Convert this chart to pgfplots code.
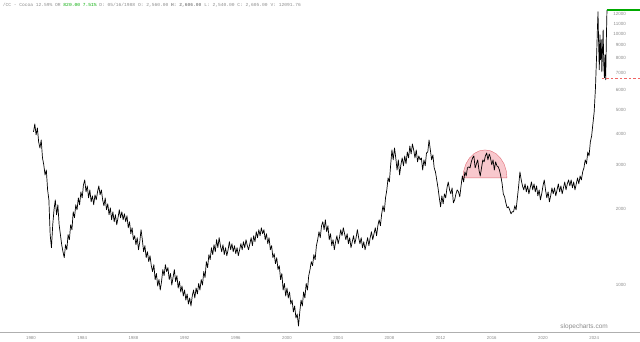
\documentclass[border=0pt]{standalone}
\usepackage{pgfplots}
\usepackage{pgfplotstable}
\pgfplotsset{compat=1.18}
\usepackage{fontspec}
\setmainfont{Liberation Sans}
\setmonofont{Liberation Mono}
\definecolor{tickgray}{RGB}{140,140,140}
\definecolor{axgray}{RGB}{175,175,175}
\definecolor{lastgreen}{RGB}{0,170,0}
\definecolor{domefill}{RGB}{248,200,205}
\definecolor{domeline}{RGB}{225,110,120}
\definecolor{dashred}{RGB}{240,100,100}

\pgfplotstableread{
t p
1980.2 4070
1980.3 4380
1980.4 3960
1980.5 4220
1980.6 3711
1980.7 3513
1980.8 3780
1980.9 3207
1981.0 3010
1981.1 2743
1981.2 2870
1981.3 2392
1981.4 2183
1981.5 1586
1981.6 1408
1981.7 1737
1981.8 1993
1981.9 2183
1982.0 1904
1982.1 2086
1982.2 1737
1982.3 1586
1982.4 1447
1982.5 1357
1982.6 1285
1982.7 1447
1982.8 1382
1982.9 1586
1983.0 1515
1983.1 1737
1983.2 1660
1983.3 1956
1983.4 1852
1983.5 2086
1983.6 1993
1983.7 2223
1983.8 2086
1983.9 2349
1984.0 2223
1984.1 2504
1984.2 2621
1984.3 2349
1984.4 2481
1984.5 2223
1984.6 2392
1984.7 2144
1984.8 2264
1984.9 2086
1985.0 2285
1985.1 2183
1985.2 2349
1985.3 2481
1985.4 2285
1985.5 2392
1985.6 2183
1985.7 2067
1985.8 2223
1985.9 1993
1986.0 2105
1986.1 1904
1986.2 2029
1986.3 1819
1986.4 1956
1986.5 1786
1986.6 1904
1986.7 1737
1986.8 1852
1986.9 1993
1987.0 1852
1987.1 1956
1987.2 1819
1987.3 1921
1987.4 1786
1987.5 1886
1987.6 1690
1987.7 1786
1987.8 1600
1987.9 1690
1988.0 1515
1988.1 1571
1988.2 1447
1988.3 1543
1988.4 1382
1988.5 1487
1988.6 1660
1988.7 1515
1988.8 1357
1988.9 1434
1989.0 1285
1989.1 1357
1989.2 1239
1989.3 1308
1989.4 1194
1989.5 1131
1989.6 1205
1989.7 1051
1989.8 1111
1989.9 991
1990.0 1051
1990.1 955
1990.2 1032
1990.3 1152
1990.4 1090
1990.5 1205
1990.6 1131
1990.7 1173
1990.8 1051
1990.9 1111
1991.0 1000
1991.1 1071
1991.2 1152
1991.3 1032
1991.4 1090
1991.5 973
1991.6 1032
1991.7 938
1991.8 991
1991.9 904
1992.0 955
1992.1 871
1992.2 921
1992.3 840
1992.4 888
1992.5 825
1992.6 904
1992.7 955
1992.8 888
1992.9 973
1993.0 921
1993.1 1014
1993.2 955
1993.3 1051
1993.4 1000
1993.5 1131
1993.6 1071
1993.7 1239
1993.8 1173
1993.9 1321
1994.0 1262
1994.1 1408
1994.2 1321
1994.3 1447
1994.4 1357
1994.5 1515
1994.6 1408
1994.7 1543
1994.8 1434
1994.9 1357
1995.0 1447
1995.1 1321
1995.2 1408
1995.3 1308
1995.4 1382
1995.5 1487
1995.6 1382
1995.7 1460
1995.8 1357
1995.9 1434
1996.0 1333
1996.1 1408
1996.2 1308
1996.3 1382
1996.4 1460
1996.5 1382
1996.6 1487
1996.7 1408
1996.8 1515
1996.9 1434
1997.0 1382
1997.1 1460
1997.2 1543
1997.3 1434
1997.4 1571
1997.5 1487
1997.6 1630
1997.7 1543
1997.8 1660
1997.9 1571
1998.0 1690
1998.1 1600
1998.2 1660
1998.3 1515
1998.4 1600
1998.5 1460
1998.6 1543
1998.7 1382
1998.8 1434
1998.9 1285
1999.0 1333
1999.1 1216
1999.2 1285
1999.3 1152
1999.4 1194
1999.5 1051
1999.6 1111
1999.7 955
1999.8 1014
1999.9 904
2000.0 973
2000.1 888
2000.2 938
2000.3 840
2000.4 871
2000.5 781
2000.6 825
2000.7 739
2000.8 766
2000.9 687
2001.0 781
2001.1 871
2001.2 825
2001.3 938
2001.4 888
2001.5 1014
2001.6 955
2001.7 1090
2001.8 1152
2001.9 1239
2002.0 1194
2002.1 1321
2002.2 1262
2002.3 1434
2002.4 1515
2002.5 1630
2002.6 1543
2002.7 1721
2002.8 1786
2002.9 1660
2003.0 1819
2003.1 1630
2003.2 1721
2003.3 1515
2003.4 1600
2003.5 1434
2003.6 1515
2003.7 1382
2003.8 1487
2003.9 1571
2004.0 1460
2004.1 1543
2004.2 1660
2004.3 1571
2004.4 1690
2004.5 1600
2004.6 1515
2004.7 1600
2004.8 1460
2004.9 1543
2005.0 1408
2005.1 1487
2005.2 1571
2005.3 1460
2005.4 1543
2005.5 1660
2005.6 1543
2005.7 1460
2005.8 1543
2005.9 1408
2006.0 1487
2006.1 1382
2006.2 1460
2006.3 1543
2006.4 1434
2006.5 1543
2006.6 1630
2006.7 1515
2006.8 1600
2006.9 1690
2007.0 1571
2007.1 1721
2007.2 1819
2007.3 1721
2007.4 1921
2007.5 2067
2007.6 1956
2007.7 2223
2007.8 2392
2007.9 2669
2008.0 2573
2008.1 3010
2008.2 3450
2008.3 3150
2008.4 3513
2008.5 3207
2008.6 2870
2008.7 3150
2008.8 2743
2008.9 3010
2009.0 3207
2009.1 2982
2009.2 3266
2009.3 3036
2009.4 3387
2009.5 3207
2009.6 3577
2009.7 3326
2009.8 3644
2009.9 3450
2010.0 3207
2010.1 3450
2010.2 3092
2010.3 3266
2010.4 3150
2010.5 3207
2010.6 2870
2010.7 3150
2010.8 2982
2010.9 3356
2011.0 3387
2011.1 3780
2011.2 3450
2011.3 3150
2011.4 3296
2011.5 2928
2011.6 2820
2011.7 2621
2011.8 2436
2011.9 2223
2012.0 2048
2012.1 2264
2012.2 2105
2012.3 2306
2012.4 2223
2012.5 2436
2012.6 2573
2012.7 2392
2012.8 2306
2012.9 2436
2013.0 2124
2013.1 2183
2013.2 2306
2013.3 2392
2013.4 2349
2013.5 2244
2013.6 2481
2013.7 2718
2013.8 2573
2013.9 2820
2014.0 2718
2014.1 2928
2014.2 2955
2014.3 2928
2014.4 3092
2014.5 3207
2014.6 3266
2014.7 2928
2014.8 3036
2014.9 3150
2015.0 2870
2015.1 2718
2015.2 2928
2015.3 3150
2015.4 3092
2015.5 3266
2015.6 3356
2015.7 3150
2015.8 3326
2015.9 3207
2016.0 3010
2016.1 3150
2016.2 2870
2016.3 3092
2016.4 2982
2016.5 2955
2016.6 2870
2016.7 2718
2016.8 2550
2016.9 2306
2017.0 2244
2017.1 2124
2017.2 2029
2017.3 2048
2017.4 1993
2017.5 1921
2017.6 1956
2017.7 1956
2017.8 2067
2017.9 1993
2018.0 2223
2018.1 2481
2018.2 2820
2018.3 2621
2018.4 2481
2018.5 2392
2018.6 2527
2018.7 2349
2018.8 2481
2018.9 2306
2019.0 2436
2019.1 2573
2019.2 2392
2019.3 2527
2019.4 2349
2019.5 2481
2019.6 2264
2019.7 2392
2019.8 2183
2019.9 2306
2020.0 2481
2020.1 2621
2020.2 2392
2020.3 2223
2020.4 2349
2020.5 2144
2020.6 2264
2020.7 2436
2020.8 2306
2020.9 2436
2021.0 2264
2021.1 2392
2021.2 2527
2021.3 2349
2021.4 2481
2021.5 2306
2021.6 2436
2021.7 2573
2021.8 2392
2021.9 2527
2022.0 2621
2022.1 2481
2022.2 2621
2022.3 2436
2022.4 2573
2022.5 2392
2022.6 2527
2022.7 2669
2022.8 2527
2022.9 2718
2023.0 2621
2023.1 2820
2023.2 2928
2023.3 3150
2023.4 3036
2023.5 3387
2023.6 3266
2023.7 3711
2023.8 3920
2023.9 4380
2024.0 4890
2024.05 5460
2024.1 6090
2024.15 7190
2024.2 8480
2024.25 10370
2024.3 12240
2024.35 9050
2024.4 7190
2024.45 9910
2024.5 7880
2024.55 9470
2024.6 7060
2024.65 8640
2024.7 10370
2024.75 7530
2024.8 6680
2024.85 8260
2024.9 6560
2024.95 9470
2025.0 12470
}\cocoa

\begin{document}
\begin{tikzpicture}
\begin{axis}[
  scale only axis,
  width=640pt, height=332pt,
  xmin=1977.58, xmax=2027.58,
  ymode=log, ymin=650, ymax=13640,
  axis x line*=bottom,
  axis y line*=right,
  x axis line style={draw=axgray, line width=0.8pt, -},
  y axis line style={draw=none},
  major tick length=0pt,
  minor tick num=0,
  xtick={1980,1984,1988,1992,1996,2000,2004,2008,2012,2016,2020,2024},
  xticklabels={1980,1984,1988,1992,1996,2000,2004,2008,2012,2016,2020,2024},
  ytick={1000,2000,3000,4000,5000,6000,7000,8000,9000,10000,11000,12000},
  yticklabels={1000,2000,3000,4000,5000,6000,7000,8000,9000,10000,11000,12000},
  log ticks with fixed point,
  xticklabel style={font=\fontsize{4.3}{5}\selectfont, text=tickgray, inner sep=0pt, anchor=north, yshift=-4pt},
  yticklabel style={font=\fontsize{4.5}{5}\selectfont, text=tickgray, inner sep=0pt, anchor=east, xshift=-14pt},
  clip=false,
]
% highlighted rounded top
\addplot[fill=domefill, draw=domeline, line width=0.4pt] coordinates {
 (2017.19,2670) (2017.13,2850) (2016.96,3035) (2016.68,3200) (2016.33,3335)
 (2015.91,3420) (2015.47,3450) (2015.02,3420) (2014.61,3335) (2014.25,3200)
 (2013.98,3035) (2013.81,2850) (2013.75,2670)} -- cycle;
% price
\addplot[draw=black, line width=0.7pt, line join=round] table[x=t, y=p] {\cocoa};
% dashed level
\addplot[dashred, line width=0.8pt, dash pattern=on 2.5pt off 2pt] table[x=t, y=p] {
t p
2024.6 6620
2027.58 6620
};
% last price
\addplot[lastgreen, line width=1.6pt] table[x=t, y=p] {
t p
2025.02 12470
2027.58 12470
};
\node[anchor=west, inner sep=0pt, font=\ttfamily\fontsize{4.6}{5}\selectfont, text=tickgray] at (rel axis cs:0.004,0.985)
  {/CC - Cocoa 12.59\% OR \textcolor{lastgreen}{820.00 7.51\%} D: 05/16/1988 O: 2,560.00 \textbf{H: 2,606.00} L: 2,540.00 C: 2,605.00 V: 12091.76};
\node[anchor=base east, inner sep=0pt, font=\fontsize{6.5}{7}\selectfont, text=tickgray] at (rel axis cs:0.95,0.012) {slopecharts.com};
\end{axis}
\pgfresetboundingbox
\path[use as bounding box] ([yshift=-9pt]current axis.south west) rectangle (current axis.north east);
\end{tikzpicture}
\end{document}
